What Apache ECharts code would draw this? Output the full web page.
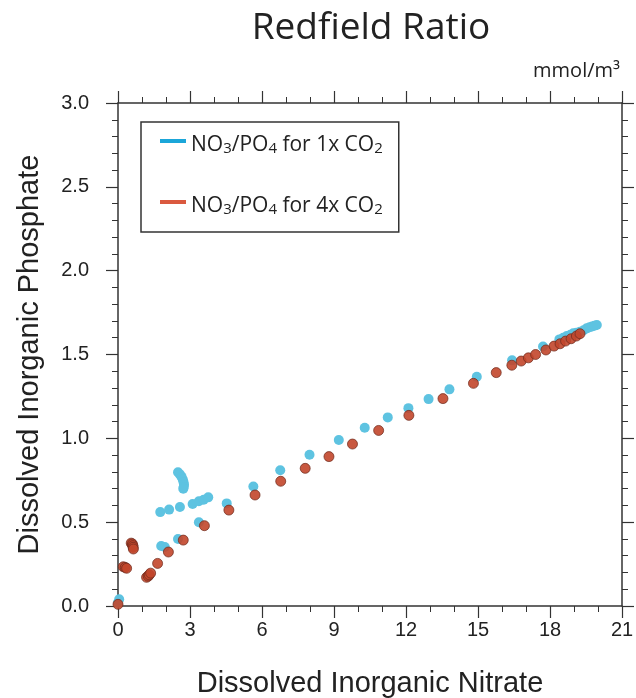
<!DOCTYPE html>
<html>
<head>
<meta charset="utf-8">
<script src="https://cdn.jsdelivr.net/npm/echarts@6/dist/echarts.min.js"></script>
<style>
html,body{margin:0;padding:0;background:#fff;}
#chart{width:636px;height:698px;}
</style>
</head>
<body>
<div id="chart"></div>
<script>
// Series names
var seriesNames = ['NO3/PO4 for 1x CO2', 'NO3/PO4 for 4x CO2'];

// 1x CO2 (blue): nitrate, phosphate
var nitrate1x = [0.0, 0.05, 0.28, 0.58, 1.28, 1.76, 2.13, 2.58, 3.11, 3.37, 3.57, 3.76,
  2.5, 2.58, 2.65, 2.70, 2.73, 2.75, 2.74, 2.72,
  3.37, 2.5, 1.8, 1.95, 4.53, 5.64, 6.76, 7.98, 9.2, 10.28, 11.24, 12.1, 12.94, 13.81, 14.95,
  16.42, 17.71, 18.39, 18.55, 18.7, 18.85, 18.97, 19.1, 19.25, 19.4, 19.53, 19.65, 19.75, 19.85, 19.95];
var phosphate1x = [0.02, 0.04, 0.232, 0.372, 0.18, 0.56, 0.575, 0.59, 0.608, 0.625, 0.634, 0.648,
  0.798, 0.785, 0.77, 0.755, 0.74, 0.725, 0.71, 0.70,
  0.499, 0.40, 0.358, 0.352, 0.612, 0.713, 0.81, 0.902, 0.99, 1.063, 1.125, 1.18, 1.234, 1.292, 1.367,
  1.465, 1.548, 1.59, 1.60, 1.61, 1.618, 1.626, 1.63, 1.636, 1.645, 1.656, 1.662, 1.667, 1.672, 1.676];

// 4x CO2 (red): nitrate, phosphate
var nitrate4x = [0.0, 0.22, 0.3, 0.36, 0.55, 0.6, 0.62, 0.63, 0.64, 1.19, 1.26, 1.3, 1.36, 1.65, 2.1, 2.72,
  3.6, 4.62, 5.71, 6.78, 7.8, 8.79, 9.77, 10.86, 12.12, 13.54, 14.81, 15.76, 16.41, 16.8, 17.1, 17.4,
  17.83, 18.17, 18.42, 18.65, 18.88, 19.1, 19.25];
var phosphate4x = [0.01, 0.234, 0.23, 0.225, 0.375, 0.37, 0.36, 0.35, 0.34, 0.171, 0.178, 0.186, 0.196, 0.254, 0.322, 0.393,
  0.479, 0.572, 0.662, 0.744, 0.821, 0.891, 0.966, 1.047, 1.137, 1.237, 1.328, 1.392, 1.436, 1.461, 1.48, 1.50,
  1.527, 1.55, 1.564, 1.58, 1.594, 1.61, 1.624];

// Axis ticks
var xTicks = [0, 3, 6, 9, 12, 15, 18, 21];
var yTicks = ['0.0', '0.5', '1.0', '1.5', '2.0', '2.5', '3.0'];

function pairs(xs, ys) { return xs.map(function (x, i) { return [x, ys[i]]; }); }

var axisColor = '#333';
var chart = echarts.init(document.getElementById('chart'));

var commonAxis = {
  axisLine: { show: true, onZero: false, lineStyle: { color: axisColor, width: 1.5 } },
  axisTick: { show: true, inside: false, length: 12, lineStyle: { color: axisColor, width: 1.2 } },
  minorTick: { show: true, length: 6, lineStyle: { color: axisColor, width: 1 } },
  splitLine: { show: false }
};

function xAxisDef(pos, showLabel) {
  return Object.assign({}, commonAxis, {
    type: 'value', position: pos, min: 0, max: 21, interval: 3,
    minorTick: Object.assign({}, commonAxis.minorTick, { splitNumber: 3 }),
    axisLabel: { show: showLabel, color: '#222', fontSize: 20, fontFamily: 'Liberation Sans, Arial, sans-serif', margin: 14,
      formatter: function (v) { return xTicks.indexOf(v) >= 0 ? String(v) : ''; } },
    name: showLabel ? 'Dissolved Inorganic Nitrate' : '',
    nameLocation: 'middle', nameGap: 63,
    nameTextStyle: { color: '#222', fontSize: 29, fontFamily: 'Liberation Sans, Arial, sans-serif' }
  });
}
function yAxisDef(pos, showLabel) {
  return Object.assign({}, commonAxis, {
    type: 'value', position: pos, min: 0, max: 3, interval: 0.5,
    minorTick: Object.assign({}, commonAxis.minorTick, { splitNumber: 5 }),
    axisLabel: { show: showLabel, color: '#222', fontSize: 20, fontFamily: 'Liberation Sans, Arial, sans-serif', margin: 29,
      formatter: function (v) { return yTicks[Math.round(v / 0.5)] || ''; } },
    name: showLabel ? 'Dissolved Inorganic Phosphate' : '',
    nameLocation: 'middle', nameGap: 74, nameRotate: 90,
    nameTextStyle: { color: '#222', fontSize: 29, fontFamily: 'Liberation Sans, Arial, sans-serif' }
  });
}

var rich = {
  a: { fontSize: 21, lineHeight: 30, fontFamily: 'Open Sans, sans-serif', color: '#222', verticalAlign: 'bottom' },
  s: { fontSize: 15, lineHeight: 16, fontFamily: 'Open Sans, sans-serif', color: '#222', verticalAlign: 'bottom' }
};
function legendFmt(name) {
  var mult = name.indexOf('4x') >= 0 ? '4x' : '1x';
  return '{a|NO}{s|3}{a|/PO}{s|4}{a| for ' + mult + ' CO}{s|2}';
}

chart.setOption({
  backgroundColor: '#fff',
  animation: false,
  title: {
    text: 'Redfield Ratio', left: 366, top: 5, textAlign: 'center',
    textStyle: { fontSize: 37, fontWeight: 'normal', color: '#222', fontFamily: 'Open Sans, sans-serif' }
  },
  graphic: [{
    type: 'text', right: 16, top: 61,
    style: { text: 'mmol/m³', fontSize: 20, fill: '#222', fontFamily: 'Open Sans, sans-serif' }
  }],
  grid: { left: 118, right: 14, top: 103, bottom: 92, containLabel: false, outerBoundsMode: 'none' },
  legend: {
    orient: 'vertical', left: 141, top: 122,
    padding: [13, 16, 15, 19], itemGap: 40,
    itemWidth: 26, itemHeight: 4, icon: 'rect',
    borderColor: '#333', borderWidth: 1.5,
    backgroundColor: '#fff',
    formatter: legendFmt,
    textStyle: { rich: rich, padding: [0, 0, 0, 0] },
    data: [
      { name: seriesNames[0], itemStyle: { color: '#1ba6d9', borderWidth: 0 } },
      { name: seriesNames[1], itemStyle: { color: '#d6472a', borderWidth: 0 } }
    ]
  },
  xAxis: [xAxisDef('bottom', true), xAxisDef('top', false)],
  yAxis: [yAxisDef('left', true), yAxisDef('right', false)],
  series: [
    {
      name: seriesNames[0], type: 'scatter', xAxisIndex: 0, yAxisIndex: 0,
      symbolSize: 10, data: pairs(nitrate1x, phosphate1x),
      itemStyle: { color: '#5ec3e1', opacity: 1 }
    },
    {
      name: seriesNames[1], type: 'scatter', xAxisIndex: 0, yAxisIndex: 0,
      symbolSize: 10, data: pairs(nitrate4x, phosphate4x),
      itemStyle: { color: '#c2462b', borderColor: '#6e2a1c', borderWidth: 0.8, opacity: 0.9 }
    }
  ]
});
</script>
</body>
</html>
